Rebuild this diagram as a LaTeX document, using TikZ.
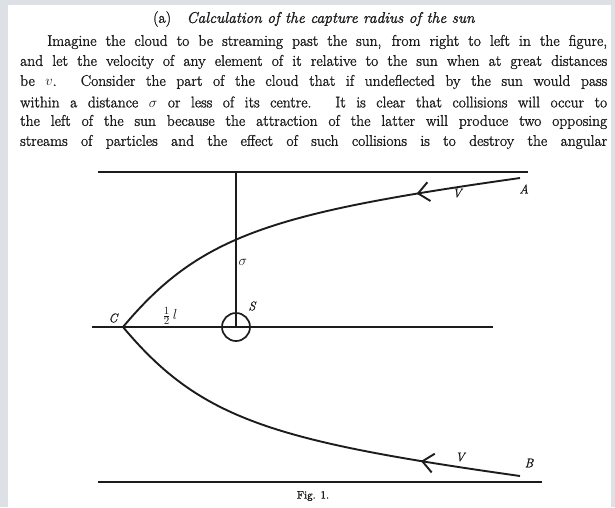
\documentclass[tikz,border=0pt]{standalone}
\usepackage{fontspec}
\setmainfont{Latin Modern Roman}[FakeBold=1.4]
\usetikzlibrary{arrows.meta,decorations.markings}
\definecolor{bg}{HTML}{DDE0E4}
\definecolor{ink}{HTML}{1C1C1C}
\begin{document}
\begin{tikzpicture}[x=1pt,y=-1pt,
  rule/.style={draw=ink, line width=1.7pt},
  thinrule/.style={draw=ink, line width=1.2pt},
  orbit/.style={draw=ink, line width=1.9pt},
  flowmark/.style={postaction={decorate, decoration={markings,
      mark=at position #1 with {\arrowreversed{Straight Barb[length=11pt,width=19pt]}}}}},
  lbl/.style={font=\fontsize{12.5}{12.5}\selectfont\itshape, text=ink, inner sep=0pt},
  txt/.style={anchor=west, inner sep=0pt, text=ink, font=\fontsize{15.5}{18}\selectfont}]
\useasboundingbox (0,0) rectangle (615,507);
\fill[bg] (0,0) rectangle (615,507);
\fill[white] (8,5) rectangle (611,507);

% text
\node[inner sep=0pt, text=ink, font=\fontsize{15.5}{15.5}\selectfont] (title) at (314,19) {(a)\quad\textit{Calculation of the capture radius of the sun}};
\node[txt] (l1) at (47,42) {\makebox[560pt][s]{Imagine the cloud to be streaming past the sun, from right to left in the figure,}};
\node[txt] (l2) at (20,62) {\makebox[587pt][s]{and let the velocity of any element of it relative to the sun when at great distances}};
\node[txt] (l3) at (20,82) {\makebox[587pt][s]{be $v$. Consider the part of the cloud that if undeflected by the sun would pass}};
\node[txt] (l4) at (20,102) {\makebox[587pt][s]{within a distance $\sigma$ or less of its centre. It is clear that collisions will occur to}};
\node[txt] (l5) at (20,122) {\makebox[587pt][s]{the left of the sun because the attraction of the latter will produce two opposing}};
\node[txt] (l6) at (20,142) {\makebox[587pt][s]{streams of particles and the effect of such collisions is to destroy the angular}};

% geometry
\coordinate (C) at (123,327);
\coordinate (A) at (520,178);
\coordinate (B) at (520,476);
\coordinate (S) at (236,327);
\coordinate (topL) at (98,172);
\coordinate (topR) at (528,172);
\coordinate (midL) at (92,327);
\coordinate (midR) at (493,327);
\coordinate (botL) at (98,482);
\coordinate (botR) at (542,482);
\coordinate (sigtop) at (236,172);

\draw[rule] (topL) -- (topR);
\draw[rule] (midL) -- (midR);
\draw[rule] (botL) -- (botR);
\draw[thinrule] (sigtop) -- (S);
\node[circle, draw=ink, line width=1.7pt, minimum size=28pt, inner sep=0pt] (sun) at (S) {};

\draw[orbit, flowmark=0.76] (C) .. controls (200,235) and (272,213) .. (A);
\draw[orbit, flowmark=0.77] (C) .. controls (200,419) and (272,441) .. (B);

% labels
\node[lbl] (lA) at (524,189) {A};
\node[lbl] (lB) at (529,463) {B};
\node[lbl] (v1) at (457,193) {V};
\node[lbl] (v2) at (460,457) {V};
\node[lbl] (lC) at (113,318) {C};
\node[lbl] (lS) at (252,306) {S};
\node[lbl, font=\fontsize{15}{15}\selectfont] (sig) at (243,262) {$\sigma$};
\node[lbl, font=\fontsize{15}{15}\selectfont] (half) at (170,316) {$\frac{1}{2}\,l$};
\node[inner sep=0pt, text=ink, font=\fontsize{11}{11}\selectfont] (fig) at (313,496) {Fig. 1.};
\end{tikzpicture}
\end{document}
